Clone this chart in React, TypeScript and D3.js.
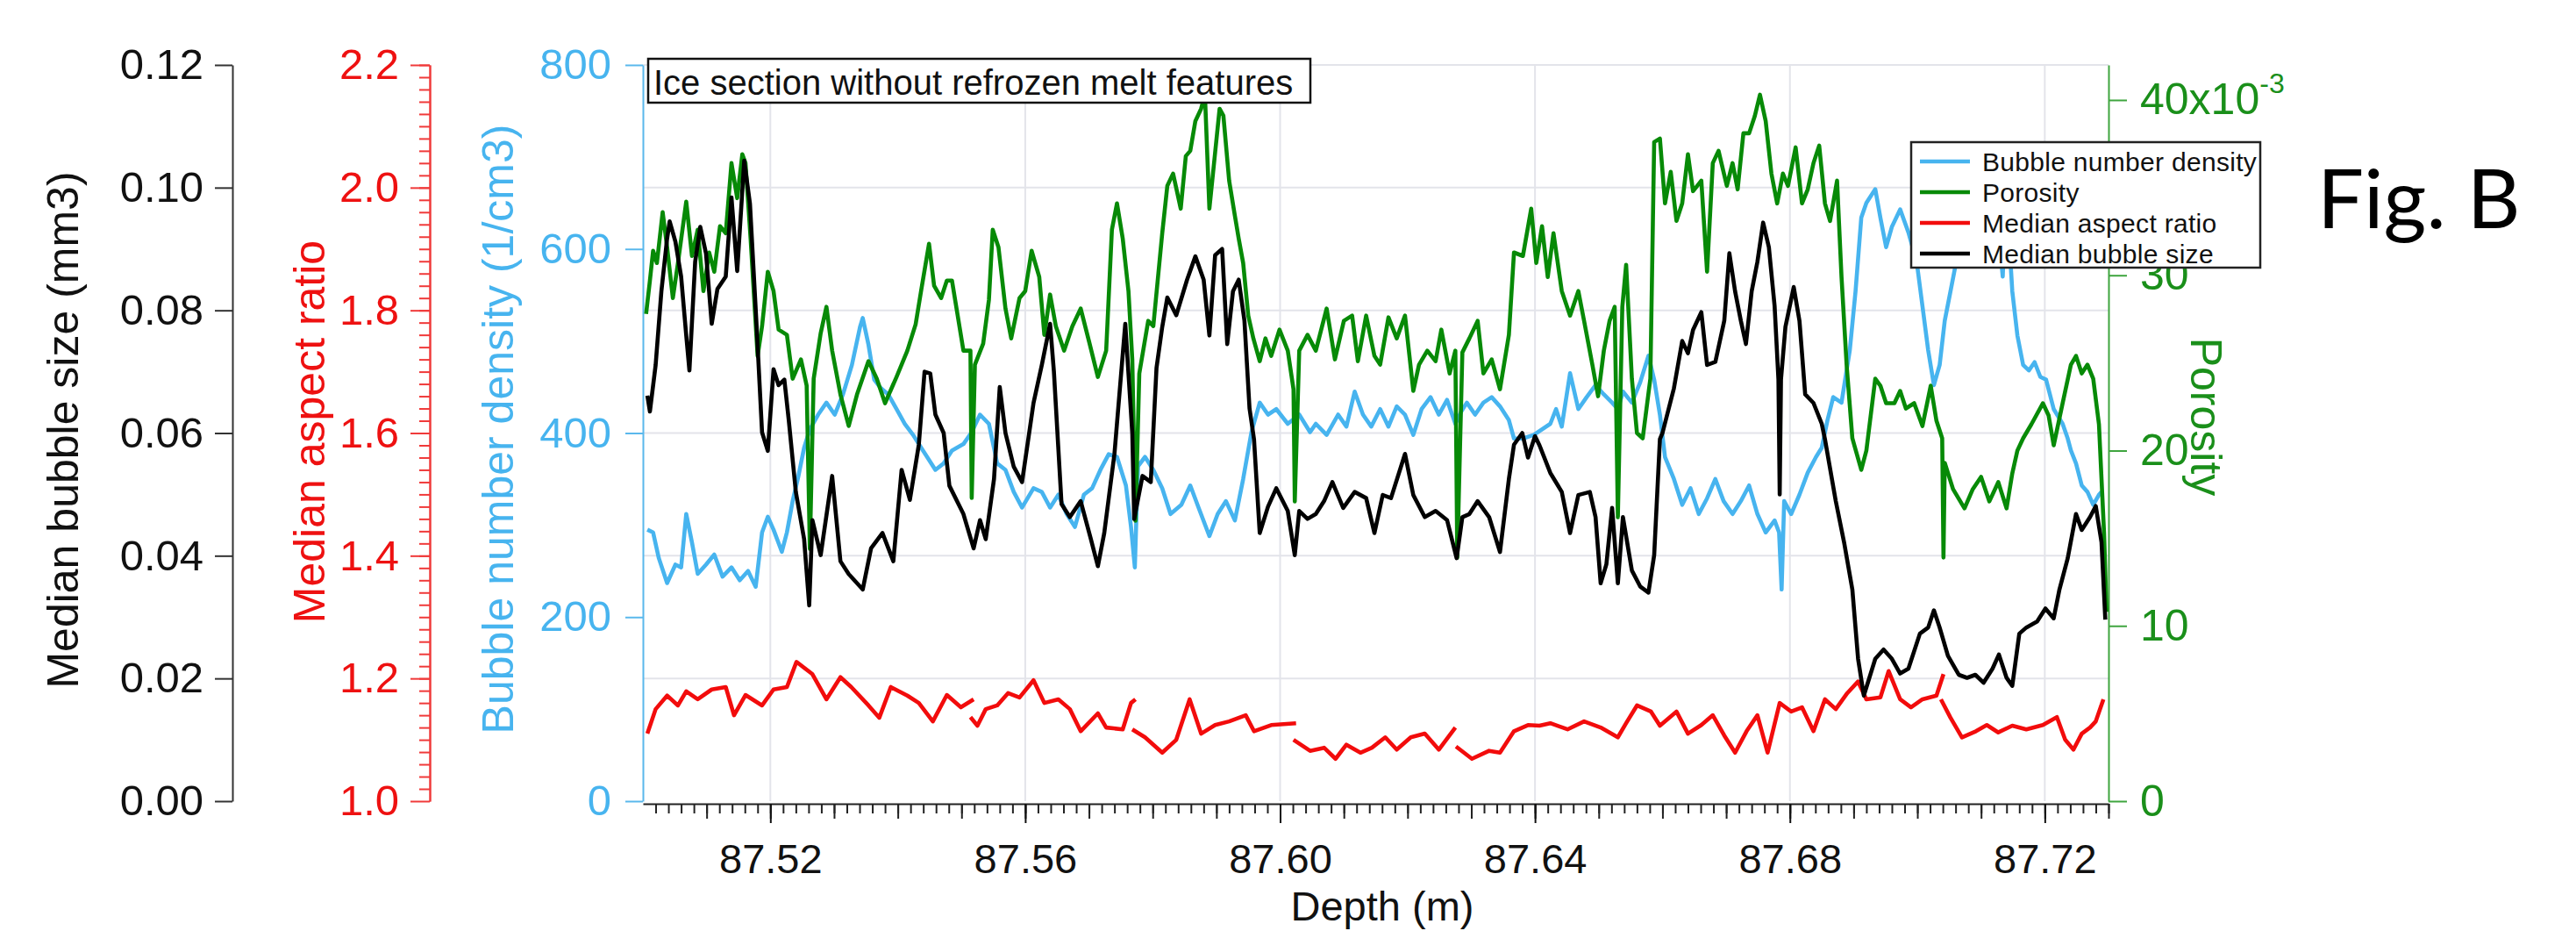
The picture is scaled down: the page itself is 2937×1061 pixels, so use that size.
import React, { useEffect, useRef } from 'react';
import * as d3 from 'd3';

type Pt = [number, number];

// [depth (m), value]
const bubbleSize: Pt[] = [
  [87.5007, 0.0661], [87.5011, 0.0635], [87.502, 0.0711], [87.5029, 0.0831], [87.5038, 0.0917], [87.5042, 0.0945],
  [87.5051, 0.0912], [87.506, 0.0855], [87.5068, 0.0759], [87.5073, 0.0702], [87.5082, 0.0879], [87.509, 0.0936],
  [87.5099, 0.0893], [87.5108, 0.0778], [87.5117, 0.0835], [87.513, 0.0855], [87.5139, 0.0984], [87.5148, 0.0864],
  [87.5159, 0.1044], [87.5168, 0.0974], [87.5178, 0.0783], [87.5187, 0.0601], [87.5196, 0.0571], [87.5205, 0.0704],
  [87.5213, 0.0678], [87.5222, 0.0687], [87.5229, 0.062], [87.524, 0.0504], [87.5253, 0.0427], [87.5261, 0.0319],
  [87.5266, 0.0458], [87.5279, 0.0401], [87.5297, 0.053], [87.531, 0.0391], [87.5323, 0.037], [87.5345, 0.0345],
  [87.5358, 0.0412], [87.5376, 0.0437], [87.5393, 0.0391], [87.5406, 0.054], [87.5419, 0.0491], [87.5433, 0.0581],
  [87.5442, 0.07], [87.5451, 0.0697], [87.5459, 0.063], [87.5472, 0.06], [87.5481, 0.0514], [87.5503, 0.0468],
  [87.5519, 0.0412], [87.5529, 0.0458], [87.5538, 0.0427], [87.5551, 0.0525], [87.556, 0.0675], [87.5569, 0.06],
  [87.5582, 0.0545], [87.5595, 0.052], [87.5613, 0.0649], [87.5626, 0.0711], [87.5639, 0.0778], [87.5645, 0.07],
  [87.5657, 0.0484], [87.567, 0.0463], [87.5687, 0.0489], [87.5703, 0.0427], [87.5714, 0.0383], [87.5724, 0.0437],
  [87.574, 0.0566], [87.5757, 0.0778], [87.5768, 0.06], [87.5771, 0.046], [87.5784, 0.053], [87.5797, 0.052],
  [87.5806, 0.0706], [87.5815, 0.0773], [87.5823, 0.0821], [87.5837, 0.0792], [87.5854, 0.085], [87.5867, 0.0888],
  [87.588, 0.085], [87.5889, 0.0759], [87.5898, 0.089], [87.5909, 0.09], [87.5917, 0.0745], [87.5926, 0.0831],
  [87.5935, 0.085], [87.5944, 0.0783], [87.5952, 0.064], [87.5959, 0.059], [87.5968, 0.0437], [87.5981, 0.048],
  [87.5994, 0.051], [87.6012, 0.0473], [87.6023, 0.0401], [87.603, 0.0473], [87.6043, 0.046], [87.6056, 0.0468],
  [87.6069, 0.0489], [87.6082, 0.052], [87.6099, 0.0478], [87.6117, 0.0504], [87.6135, 0.0494], [87.6148, 0.0437],
  [87.6161, 0.0499], [87.6174, 0.0494], [87.6196, 0.0566], [87.6209, 0.0499], [87.6227, 0.0463], [87.6244, 0.0473],
  [87.6262, 0.0458], [87.6277, 0.0396], [87.6286, 0.0463], [87.6297, 0.0468], [87.631, 0.0489], [87.6328, 0.0463],
  [87.6345, 0.0406], [87.6359, 0.0525], [87.6367, 0.0581], [87.638, 0.06], [87.6389, 0.056], [87.64, 0.0595],
  [87.6407, 0.058], [87.6424, 0.0535], [87.6442, 0.0504], [87.6455, 0.0437], [87.6468, 0.0499], [87.6486, 0.0504],
  [87.6495, 0.0463], [87.6503, 0.0355], [87.6512, 0.0386], [87.6521, 0.0478], [87.653, 0.0355], [87.6538, 0.0463],
  [87.6552, 0.0376], [87.6565, 0.035], [87.6578, 0.034], [87.6587, 0.0401], [87.6596, 0.059], [87.66, 0.06],
  [87.6618, 0.0673], [87.6631, 0.075], [87.664, 0.073], [87.6648, 0.0768], [87.6661, 0.0797], [87.667, 0.0711],
  [87.6683, 0.0716], [87.6697, 0.0783], [87.6705, 0.0893], [87.6714, 0.0831], [87.6723, 0.0783], [87.6731, 0.0745],
  [87.674, 0.0831], [87.6749, 0.0879], [87.6758, 0.0943], [87.6767, 0.0903], [87.6776, 0.0807], [87.6782, 0.0687],
  [87.6784, 0.05], [87.6786, 0.0687], [87.6793, 0.0773], [87.6806, 0.0838], [87.6815, 0.0783], [87.6824, 0.0663],
  [87.6837, 0.0649], [87.685, 0.0615], [87.6855, 0.059], [87.6872, 0.0489], [87.6885, 0.0422], [87.6898, 0.0345],
  [87.6907, 0.0232], [87.6916, 0.0172], [87.6934, 0.0232], [87.6947, 0.0247], [87.696, 0.0232], [87.6973, 0.0208],
  [87.6986, 0.0216], [87.7004, 0.0273], [87.7017, 0.0283], [87.7026, 0.0311], [87.7035, 0.0283], [87.7048, 0.0237],
  [87.7065, 0.0206], [87.7078, 0.0201], [87.7091, 0.0206], [87.7104, 0.0193], [87.7118, 0.0216], [87.7128, 0.0239],
  [87.714, 0.0201], [87.7149, 0.0188], [87.716, 0.0273], [87.7171, 0.0283], [87.7188, 0.0293], [87.7201, 0.0314],
  [87.7214, 0.0298], [87.7223, 0.0345], [87.7236, 0.0396], [87.7249, 0.0468], [87.7258, 0.0442], [87.7271, 0.0463],
  [87.728, 0.0481], [87.7289, 0.0422], [87.7295, 0.0296],
];

// porosity in units of 10^-3
const porosity: Pt[] = [
  [87.5005, 27.8], [87.5011, 29.7], [87.5016, 31.4], [87.5022, 30.7], [87.5031, 33.6], [87.5038, 31.6], [87.5047, 28.7],
  [87.5055, 30.7], [87.5068, 34.2], [87.5077, 31.1], [87.5086, 32.6], [87.5095, 29.1], [87.5104, 31.3], [87.5112, 30.2],
  [87.5121, 32.8], [87.513, 32.4], [87.5139, 36.4], [87.5148, 34.4], [87.5156, 36.9], [87.5161, 36.4], [87.5169, 32.1],
  [87.518, 25.4], [87.5187, 27.1], [87.5196, 30.2], [87.5205, 29.1], [87.5213, 26.9], [87.5226, 26.6], [87.5235, 24.1],
  [87.5248, 25.2], [87.5257, 23.7], [87.5262, 14.4], [87.5268, 24.1], [87.5279, 26.7], [87.5288, 28.2], [87.5297, 25.7],
  [87.531, 23.2], [87.5323, 21.4], [87.5336, 23.2], [87.5354, 25.1], [87.5367, 24.1], [87.538, 22.7], [87.5398, 24.2],
  [87.5415, 25.7], [87.5428, 27.2], [87.5437, 29.2], [87.5449, 31.8], [87.5457, 29.4], [87.5468, 28.7], [87.5477, 29.7],
  [87.5485, 29.7], [87.5494, 27.7], [87.5503, 25.7], [87.5514, 25.7], [87.5516, 17.3], [87.5521, 24.9], [87.5534, 26.1],
  [87.5543, 28.6], [87.5549, 32.6], [87.5558, 31.6], [87.5569, 28.1], [87.5578, 26.4], [87.5591, 28.7], [87.56, 29.1],
  [87.561, 31.4], [87.5622, 29.9], [87.563, 26.6], [87.5639, 28.9], [87.5648, 27.1], [87.5661, 25.7], [87.5674, 27.1],
  [87.5687, 28.1], [87.5701, 26.1], [87.5714, 24.2], [87.5727, 25.7], [87.5736, 32.6], [87.5744, 34.1], [87.5753, 32.1],
  [87.5762, 29.1], [87.5768, 25.2], [87.5773, 16.0], [87.5779, 24.4], [87.5793, 27.4], [87.5801, 27.1], [87.5815, 32.4],
  [87.5823, 35.1], [87.5832, 35.8], [87.5844, 33.8], [87.5852, 36.8], [87.5859, 37.1], [87.5867, 38.8], [87.5876, 39.5],
  [87.5882, 40.3], [87.5889, 33.8], [87.5898, 37.0], [87.5905, 39.5], [87.5911, 39.1], [87.592, 35.4], [87.5929, 33.4],
  [87.5935, 32.1], [87.5942, 30.7], [87.595, 27.7], [87.5958, 26.4], [87.5968, 25.1], [87.5977, 26.4], [87.5986, 25.4],
  [87.5999, 26.9], [87.6012, 25.7], [87.6021, 23.5], [87.6023, 17.1], [87.603, 25.7], [87.6043, 26.6], [87.6056, 25.7],
  [87.6073, 28.1], [87.6086, 25.2], [87.61, 27.4], [87.6113, 27.7], [87.6122, 25.1], [87.6135, 27.7], [87.6148, 25.4],
  [87.6157, 24.9], [87.617, 27.6], [87.6183, 26.4], [87.6196, 27.7], [87.6209, 23.4], [87.6218, 24.9], [87.6231, 25.7],
  [87.6244, 25.1], [87.6253, 26.9], [87.6266, 24.4], [87.6275, 25.7], [87.6278, 13.9], [87.6286, 25.6], [87.6297, 26.4],
  [87.631, 27.4], [87.6319, 24.4], [87.6332, 25.2], [87.6345, 23.5], [87.6359, 26.6], [87.6367, 31.3], [87.6381, 31.1],
  [87.6394, 33.8], [87.6402, 30.7], [87.6411, 32.8], [87.642, 29.9], [87.6429, 32.4], [87.6442, 29.1], [87.6455, 27.7],
  [87.6468, 29.1], [87.6477, 27.4], [87.649, 24.9], [87.6499, 23.1], [87.6508, 25.7], [87.6517, 27.4], [87.6525, 28.2],
  [87.653, 16.2], [87.6537, 28.2], [87.6543, 30.6], [87.6552, 24.1], [87.656, 21.0], [87.6569, 20.7], [87.6581, 24.1],
  [87.6587, 37.6], [87.6596, 37.8], [87.6604, 34.1], [87.6613, 35.9], [87.6622, 33.1], [87.6631, 34.1], [87.664, 36.9],
  [87.6648, 34.8], [87.6661, 35.4], [87.667, 30.2], [87.6679, 36.4], [87.6688, 37.1], [87.6701, 35.1], [87.671, 36.4],
  [87.6718, 34.9], [87.6727, 38.1], [87.6736, 38.1], [87.6745, 39.1], [87.6753, 40.3], [87.6762, 38.8], [87.6771, 35.8],
  [87.678, 34.1], [87.6789, 35.8], [87.6797, 35.1], [87.6809, 37.3], [87.6819, 34.1], [87.6828, 34.9], [87.6837, 36.4],
  [87.6846, 37.4], [87.6855, 34.1], [87.6863, 33.1], [87.6874, 35.4], [87.6881, 29.9], [87.6889, 24.9], [87.6898, 20.7],
  [87.6912, 18.9], [87.692, 20.0], [87.6934, 24.1], [87.6942, 23.7], [87.6951, 22.7], [87.6964, 22.7], [87.6973, 23.4],
  [87.6982, 22.4], [87.6995, 22.7], [87.7008, 21.4], [87.7021, 23.7], [87.703, 21.7], [87.7039, 20.7], [87.7041, 13.9],
  [87.7043, 19.3], [87.7056, 17.8], [87.7074, 16.7], [87.7087, 17.8], [87.71, 18.5], [87.7113, 17.1], [87.7127, 18.2],
  [87.714, 16.7], [87.7149, 18.7], [87.7157, 20.0], [87.7166, 20.7], [87.7179, 21.5], [87.7197, 22.7], [87.7206, 22.0],
  [87.7214, 20.3], [87.7228, 22.7], [87.7241, 24.9], [87.7249, 25.4], [87.7258, 24.4], [87.7267, 24.9], [87.7276, 24.1],
  [87.7285, 21.5], [87.7293, 15.3], [87.7297, 10.8],
];

// bubble number density, 1/cm3
const density: Pt[] = [
  [87.5007, 295], [87.5016, 292], [87.5025, 264], [87.5038, 237], [87.5051, 257], [87.506, 254], [87.5068, 312],
  [87.5077, 281], [87.5086, 247], [87.5099, 257], [87.5112, 268], [87.5125, 244], [87.5139, 254], [87.5152, 240],
  [87.5165, 250], [87.5177, 233], [87.5187, 292], [87.5196, 309], [87.5205, 295], [87.5218, 271], [87.5226, 292],
  [87.5235, 326], [87.5244, 353], [87.5253, 384], [87.5262, 404], [87.5275, 420], [87.5288, 433], [87.5301, 420],
  [87.5314, 442], [87.5328, 474], [87.5341, 516], [87.5345, 525], [87.5354, 496], [87.5363, 458], [87.5373, 449],
  [87.5385, 442], [87.5398, 426], [87.5411, 410], [87.5424, 398], [87.5433, 388], [87.5446, 374], [87.5459, 360],
  [87.5472, 367], [87.5485, 381], [87.5503, 388], [87.5516, 401], [87.5529, 420], [87.5543, 410], [87.5556, 367],
  [87.5569, 360], [87.5582, 336], [87.5595, 319], [87.5613, 340], [87.5626, 336], [87.5639, 319], [87.5652, 333],
  [87.5665, 312], [87.5678, 298], [87.5692, 333], [87.5705, 340], [87.5718, 360], [87.5731, 377], [87.5744, 374],
  [87.5758, 343], [87.5766, 298], [87.5772, 254], [87.5777, 364], [87.5788, 374], [87.5801, 360], [87.5815, 340],
  [87.5828, 312], [87.5845, 322], [87.5859, 343], [87.5872, 319], [87.5889, 288], [87.5902, 312], [87.5915, 326],
  [87.5929, 305], [87.5942, 350], [87.5955, 401], [87.5968, 433], [87.5981, 420], [87.5994, 426], [87.6012, 410],
  [87.603, 420], [87.6047, 401], [87.6056, 410], [87.6073, 398], [87.6091, 420], [87.6104, 407], [87.6117, 445],
  [87.613, 420], [87.6143, 407], [87.6157, 426], [87.617, 407], [87.6183, 429], [87.6196, 420], [87.6209, 398],
  [87.6222, 426], [87.6236, 439], [87.6249, 420], [87.6262, 436], [87.6275, 410], [87.6284, 423], [87.6293, 433],
  [87.6306, 420], [87.6319, 433], [87.6332, 439], [87.6345, 429], [87.6359, 414], [87.6367, 394], [87.6381, 394],
  [87.6398, 398], [87.6424, 410], [87.6433, 426], [87.6442, 407], [87.6455, 465], [87.6468, 426], [87.6481, 439],
  [87.6495, 452], [87.6508, 442], [87.6521, 433], [87.653, 426], [87.6538, 445], [87.6552, 433], [87.6565, 455],
  [87.6578, 484], [87.6587, 458], [87.6596, 420], [87.6604, 374], [87.6618, 350], [87.6631, 322], [87.6644, 340],
  [87.6657, 312], [87.667, 329], [87.6683, 350], [87.6696, 326], [87.671, 312], [87.6723, 326], [87.6736, 343],
  [87.6749, 312], [87.6762, 292], [87.6776, 305], [87.6783, 292], [87.6787, 230], [87.6791, 326], [87.6802, 312],
  [87.6815, 333], [87.6828, 357], [87.6841, 374], [87.685, 384], [87.6859, 414], [87.6868, 439], [87.6881, 433],
  [87.6894, 490], [87.6903, 554], [87.6912, 634], [87.692, 650], [87.6934, 665], [87.6942, 634], [87.6951, 602],
  [87.696, 624], [87.6973, 643], [87.6986, 618], [87.6999, 586], [87.7008, 538], [87.7017, 490], [87.7026, 452],
  [87.7035, 474], [87.7043, 522], [87.7052, 554], [87.7061, 586], [87.707, 640], [87.708, 690], [87.709, 700],
  [87.71, 680], [87.711, 690], [87.712, 660], [87.713, 600], [87.7134, 570], [87.7138, 640], [87.7145, 600],
  [87.7149, 554], [87.7157, 506], [87.7166, 474], [87.7175, 468], [87.7184, 477], [87.7193, 461], [87.7202, 458],
  [87.7214, 426], [87.7228, 410], [87.7236, 394], [87.7241, 381], [87.7249, 367], [87.7258, 343], [87.7267, 336],
  [87.7276, 322], [87.7285, 333], [87.7289, 336],
];

// median aspect ratio, drawn as separate pieces
const aspectRatio: Pt[][] = [
  [
    [87.5007, 1.11], [87.502, 1.15], [87.5038, 1.172], [87.5055, 1.156], [87.5068, 1.179], [87.5086, 1.166],
    [87.5108, 1.182], [87.513, 1.186], [87.5143, 1.14], [87.5161, 1.173], [87.5187, 1.156], [87.5205, 1.182],
    [87.5226, 1.186], [87.5241, 1.227], [87.5266, 1.207], [87.5288, 1.166], [87.531, 1.202], [87.5327, 1.186],
    [87.5354, 1.156], [87.5371, 1.136], [87.5389, 1.186], [87.5415, 1.172], [87.5433, 1.16], [87.5455, 1.13],
    [87.5477, 1.173], [87.5499, 1.153], [87.5519, 1.166],
  ],
  [
    [87.5514, 1.137], [87.5525, 1.123], [87.5538, 1.15], [87.5556, 1.156], [87.5573, 1.176], [87.5591, 1.169],
    [87.5613, 1.197], [87.563, 1.16], [87.5652, 1.166], [87.567, 1.15], [87.5687, 1.114], [87.5714, 1.143],
    [87.5727, 1.12], [87.5753, 1.117], [87.5766, 1.16], [87.5773, 1.166],
  ],
  [
    [87.5768, 1.117], [87.5788, 1.104], [87.5815, 1.079], [87.5837, 1.1], [87.5858, 1.166], [87.5876, 1.11],
    [87.5898, 1.124], [87.592, 1.13], [87.5946, 1.14], [87.5959, 1.114], [87.5986, 1.124], [87.6025, 1.127],
  ],
  [
    [87.6021, 1.1], [87.6047, 1.082], [87.6069, 1.087], [87.6087, 1.069], [87.6104, 1.092], [87.6126, 1.079],
    [87.6144, 1.087], [87.6165, 1.104], [87.6183, 1.084], [87.6205, 1.104], [87.6227, 1.11], [87.6249, 1.084],
    [87.6275, 1.12],
  ],
  [
    [87.6276, 1.089], [87.6301, 1.069], [87.6328, 1.082], [87.6345, 1.079], [87.6367, 1.114], [87.6389, 1.124],
    [87.6407, 1.123], [87.6424, 1.127], [87.6451, 1.117], [87.6477, 1.13], [87.6503, 1.12], [87.653, 1.104],
    [87.6543, 1.127], [87.656, 1.156], [87.6582, 1.146], [87.6596, 1.123], [87.6622, 1.146], [87.664, 1.11],
    [87.6661, 1.124], [87.6679, 1.14], [87.6697, 1.107], [87.6714, 1.079], [87.6732, 1.114], [87.6749, 1.14],
    [87.6765, 1.079], [87.6784, 1.16], [87.6802, 1.146], [87.6819, 1.153], [87.6837, 1.114], [87.6855, 1.166],
    [87.6872, 1.15], [87.689, 1.176], [87.6907, 1.195], [87.692, 1.166], [87.6942, 1.169], [87.6955, 1.212],
    [87.6973, 1.166], [87.699, 1.153], [87.7008, 1.166], [87.703, 1.172], [87.7041, 1.207],
  ],
  [
    [87.7037, 1.166], [87.7052, 1.136], [87.707, 1.104], [87.7092, 1.114], [87.7109, 1.124], [87.7127, 1.112],
    [87.7149, 1.123], [87.7171, 1.117], [87.7197, 1.124], [87.7219, 1.137], [87.7232, 1.1], [87.7245, 1.084],
    [87.7258, 1.11], [87.7271, 1.12], [87.728, 1.13], [87.7292, 1.166],
  ],
];

const depthMajor = [87.52, 87.56, 87.6, 87.64, 87.68, 87.72];
const sizeTicks = [0, 0.02, 0.04, 0.06, 0.08, 0.1, 0.12];
const aspectTicks = [1.0, 1.2, 1.4, 1.6, 1.8, 2.0, 2.2];
const densityTicks = [0, 200, 400, 600, 800];
const porosityTicks = [0, 10, 20, 30, 40];

const BLUE = '#47b4ef';
const GREEN = '#078a07';
const RED = '#f20c0c';
const BLACK = '#000000';

const legendItems = [
  { label: 'Bubble number density', color: BLUE },
  { label: 'Porosity', color: GREEN },
  { label: 'Median aspect ratio', color: RED },
  { label: 'Median bubble size', color: BLACK },
];

const FONT = '"Liberation Sans", Arial, Helvetica, sans-serif';

export default function App() {
  const svgRef = useRef<SVGSVGElement>(null);
  const width = 2937;
  const height = 1061;

  useEffect(() => {
    if (!svgRef.current) return;
    const svg = d3.select(svgRef.current);
    svg.selectAll('*').remove();

    const left = 733;
    const right = 2404;
    const top = 74;
    const bottom = 913;

    const x = d3.scaleLinear().domain([87.5, 87.73]).range([left, right]);
    const ySize = d3.scaleLinear().domain([0, 0.12]).range([bottom, top]);
    const yAspect = d3.scaleLinear().domain([1.0, 2.2]).range([bottom, top]);
    const yDensity = d3.scaleLinear().domain([0, 800]).range([bottom, top]);
    const yPoro = d3.scaleLinear().domain([0, 42]).range([bottom, top]);

    svg.append('rect').attr('width', width).attr('height', height).attr('fill', '#fff');

    // grid
    const grid = svg.append('g').attr('stroke', '#e3e4ea').attr('stroke-width', 2);
    sizeTicks.slice(1).forEach((t) => {
      grid.append('line').attr('x1', left).attr('x2', right).attr('y1', ySize(t)).attr('y2', ySize(t));
    });
    depthMajor.forEach((t) => {
      grid.append('line').attr('x1', x(t)).attr('x2', x(t)).attr('y1', top).attr('y2', bottom);
    });

    const styleAxis = (g: any, color: string, size: number) => {
      g.select('.domain').attr('stroke', color).attr('stroke-width', 2);
      g.selectAll('.tick line').attr('stroke', color).attr('stroke-width', 2);
      g.selectAll('.tick text').attr('fill', color).style('font-size', `${size}px`).style('font-family', FONT);
    };

    // x axis: minor, medium and major ticks
    const xMinor = d3.range(87.502, 87.7301, 0.002).map((d) => +d.toFixed(3));
    const xMedium = d3.range(87.51, 87.7301, 0.01).map((d) => +d.toFixed(2));
    const xg = svg.append('g').attr('transform', `translate(0,916)`);
    xg.call(d3.axisBottom(x).tickValues(xMinor).tickSize(11).tickSizeOuter(0).tickFormat(() => ''));
    styleAxis(xg, '#222', 46);
    const xg2 = svg.append('g').attr('transform', `translate(0,916)`);
    xg2.call(d3.axisBottom(x).tickValues(xMedium).tickSize(17).tickSizeOuter(0).tickFormat(() => ''));
    styleAxis(xg2, '#222', 46);
    xg2.select('.domain').remove();
    const xg3 = svg.append('g').attr('transform', `translate(0,916)`);
    xg3.call(d3.axisBottom(x).tickValues(depthMajor).tickSize(22).tickSizeOuter(0).tickPadding(24).tickFormat(d3.format('.2f')));
    styleAxis(xg3, '#111', 47);
    xg3.select('.domain').remove();

    svg.append('text')
      .attr('x', 1576).attr('y', 1049)
      .attr('text-anchor', 'middle')
      .style('font-family', FONT).style('font-size', '47px')
      .attr('fill', '#111')
      .text('Depth (m)');

    // black: median bubble size axis
    const gSize = svg.append('g').attr('transform', 'translate(265,0)');
    gSize.call(d3.axisLeft(ySize).tickValues(sizeTicks).tickSize(20).tickSizeOuter(0).tickPadding(13).tickFormat(d3.format('.2f')));
    styleAxis(gSize, '#333', 49);
    gSize.selectAll('.tick text').attr('fill', '#111');
    svg.append('text')
      .attr('transform', 'translate(89,490) rotate(-90)')
      .attr('text-anchor', 'middle')
      .style('font-family', FONT).style('font-size', '50px')
      .attr('fill', '#111')
      .text('Median bubble size (mm3)');

    // red: aspect ratio axis
    const aspectMinor = d3.range(1.02, 2.2, 0.02).map((d) => +d.toFixed(2));
    const gAspMinor = svg.append('g').attr('transform', 'translate(490,0)');
    gAspMinor.call(d3.axisLeft(yAspect).tickValues(aspectMinor).tickSize(12).tickSizeOuter(0).tickFormat(() => ''));
    styleAxis(gAspMinor, '#f03a3a', 40);
    const gAsp = svg.append('g').attr('transform', 'translate(490,0)');
    gAsp.call(d3.axisLeft(yAspect).tickValues(aspectTicks).tickSize(22).tickSizeOuter(0).tickPadding(13).tickFormat(d3.format('.1f')));
    styleAxis(gAsp, '#f03a3a', 49);
    gAsp.selectAll('.tick text').attr('fill', '#ee1111');
    svg.append('text')
      .attr('transform', 'translate(370,492) rotate(-90)')
      .attr('text-anchor', 'middle')
      .style('font-family', FONT).style('font-size', '50px')
      .attr('fill', '#ee1111')
      .text('Median aspect ratio');

    // blue: density axis
    const gDen = svg.append('g').attr('transform', `translate(${left},0)`);
    gDen.call(d3.axisLeft(yDensity).tickValues(densityTicks).tickSize(20).tickSizeOuter(0).tickPadding(16).tickFormat(d3.format('d')));
    styleAxis(gDen, '#5ab8ec', 49);
    gDen.selectAll('.tick text').attr('fill', BLUE);
    svg.append('text')
      .attr('transform', 'translate(585,489) rotate(-90)')
      .attr('text-anchor', 'middle')
      .style('font-family', FONT).style('font-size', '50px')
      .attr('fill', BLUE)
      .text('Bubble number density (1/cm3)');

    // green: porosity axis
    const gPor = svg.append('g').attr('transform', `translate(${right},0)`);
    gPor.call(d3.axisRight(yPoro).tickValues(porosityTicks).tickSize(21).tickSizeOuter(0).tickPadding(15).tickFormat((d: any) => (d === 40 ? '40x10' : String(d))));
    styleAxis(gPor, '#3fa53f', 50);
    gPor.selectAll('.tick text').attr('fill', '#1a8f1a');
    gPor.selectAll('.tick text')
      .filter((d: any) => d === 40)
      .append('tspan')
      .attr('dy', '-0.75em')
      .style('font-size', '32px')
      .text('-3');
    svg.append('text')
      .attr('transform', 'translate(2498,475) rotate(90)')
      .attr('text-anchor', 'middle')
      .style('font-family', FONT).style('font-size', '50px')
      .attr('fill', '#1a8f1a')
      .text('Porosity');

    // traces
    svg.append('clipPath').attr('id', 'plot-clip')
      .append('rect').attr('x', left).attr('y', top - 4).attr('width', right - left).attr('height', bottom - top + 4);
    const traces = svg.append('g').attr('clip-path', 'url(#plot-clip)')
      .attr('fill', 'none').attr('stroke-width', 4.6).attr('stroke-linejoin', 'round');

    const lineDen = d3.line<Pt>().x((d) => x(d[0])).y((d) => yDensity(d[1]));
    const linePor = d3.line<Pt>().x((d) => x(d[0])).y((d) => yPoro(d[1]));
    const lineAsp = d3.line<Pt>().x((d) => x(d[0])).y((d) => yAspect(d[1]));
    const lineSize = d3.line<Pt>().x((d) => x(d[0])).y((d) => ySize(d[1]));

    traces.append('path').attr('d', lineDen(density)).attr('stroke', BLUE);
    traces.append('path').attr('d', linePor(porosity)).attr('stroke', GREEN);
    aspectRatio.forEach((seg) => {
      traces.append('path').attr('d', lineAsp(seg)).attr('stroke', RED);
    });
    traces.append('path').attr('d', lineSize(bubbleSize)).attr('stroke', BLACK);

    // annotation box
    svg.append('rect')
      .attr('x', 739).attr('y', 67).attr('width', 755).attr('height', 50)
      .attr('fill', '#fff').attr('stroke', '#111').attr('stroke-width', 2.5);
    svg.append('text')
      .attr('x', 745).attr('y', 108)
      .style('font-family', FONT).style('font-size', '40px')
      .attr('fill', '#111')
      .text('Ice section without refrozen melt features');

    // legend
    const lg = svg.append('g');
    lg.append('rect')
      .attr('x', 2179).attr('y', 162).attr('width', 398).attr('height', 143)
      .attr('fill', '#fff').attr('stroke', '#222').attr('stroke-width', 2.5);
    legendItems.forEach((item, i) => {
      const cy = 184 + i * 35;
      lg.append('line')
        .attr('x1', 2189).attr('x2', 2246).attr('y1', cy).attr('y2', cy)
        .attr('stroke', item.color).attr('stroke-width', 4.5);
      lg.append('text')
        .attr('x', 2260).attr('y', cy + 11)
        .style('font-family', FONT).style('font-size', '30px')
        .style('letter-spacing', '0.3px')
        .attr('fill', '#111')
        .text(item.label);
    });

    svg.append('text')
      .attr('x', 2642).attr('y', 260)
      .style('font-family', 'Lato, "Open Sans", sans-serif').style('font-size', '94px')
      .attr('fill', '#000')
      .text('Fig. B');
  }, []);

  return (
    <svg
      ref={svgRef}
      width={width}
      height={height}
      style={{ position: 'absolute', left: 0, top: 0, display: 'block' }}
    />
  );
}
